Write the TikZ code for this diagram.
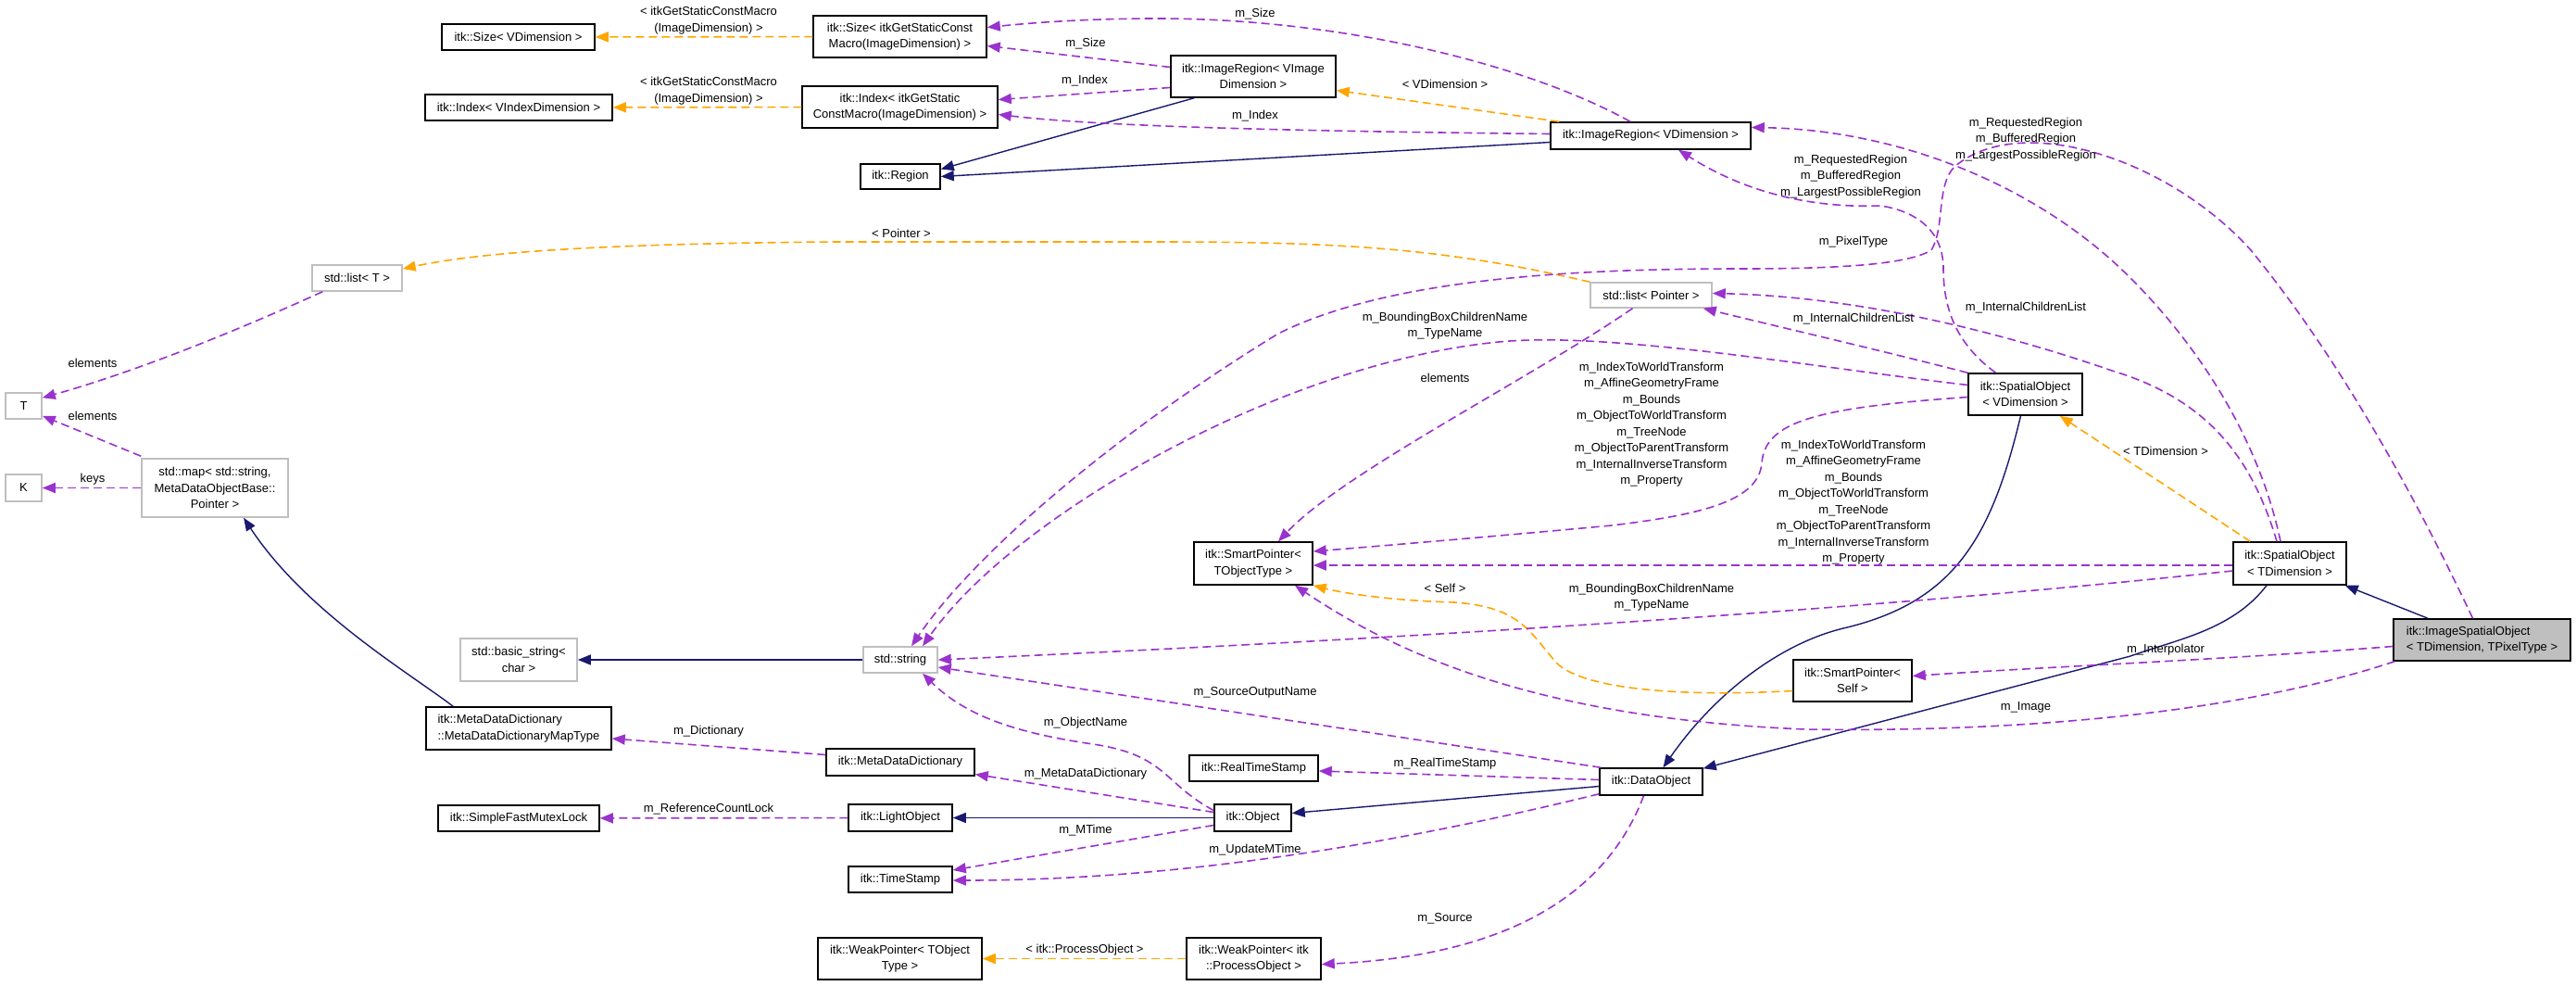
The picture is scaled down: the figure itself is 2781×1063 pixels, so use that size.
\documentclass[tikz,border=0pt]{standalone}
\usepackage{fontspec}
\setmainfont{Liberation Sans}
\usetikzlibrary{arrows.meta,calc}
\definecolor{navy}{HTML}{191970}
\definecolor{orchid}{HTML}{9A32CD}
\definecolor{tmpl}{HTML}{FFA500}
\definecolor{lgray}{HTML}{BFBFBF}
\begin{document}
\begin{tikzpicture}[x=1pt,y=-1pt, font=\fontsize{13}{17.5}\selectfont,
 cls/.style={draw=black, line width=1.5pt, fill=white, inner sep=0pt, align=center},
 gcls/.style={cls, draw=lgray},
 lbl/.style={inner sep=0pt, align=center},
 atip/.style={-{Triangle[length=14pt,width=11pt]}},
 inh/.style={draw=navy, line width=1.4pt, atip},
 usedge/.style={draw=orchid, line width=1.6pt, dash pattern=on 9pt off 5pt, atip},
 tpl/.style={draw=tmpl, line width=1.6pt, dash pattern=on 9pt off 5pt, atip}]
\useasboundingbox (0,0) rectangle (2781,1063);

% ---------------- nodes ----------------
\node[cls, minimum width=165, minimum height=28] (sizeV) at (559.5,40) {itk::Size< VDimension >};
\node[cls, minimum width=202, minimum height=28] (indexV) at (560,116) {itk::Index< VIndexDimension >};
\node[cls, minimum width=187, minimum height=45] (sizeT) at (971.5,39.5) {itk::Size< itkGetStaticConst\\Macro(ImageDimension) >};
\node[cls, minimum width=211, minimum height=45] (indexT) at (971.5,115.5) {itk::Index< itkGetStatic\\ConstMacro(ImageDimension) >};
\node[cls, minimum width=86, minimum height=27] (region) at (972,190.5) {itk::Region};
\node[cls, minimum width=178, minimum height=45] (irVI) at (1353,82.5) {itk::ImageRegion< VImage\\Dimension >};
\node[cls, minimum width=216, minimum height=29] (irVD) at (1782,146.5) {itk::ImageRegion< VDimension >};
\node[gcls, minimum width=97, minimum height=28] (listT) at (385.5,300) {std::list< T >};
\node[gcls, minimum width=131, minimum height=27] (listP) at (1782.5,318.5) {std::list< Pointer >};
\node[gcls, minimum width=39, minimum height=28] (T) at (25.5,438) {T};
\node[gcls, minimum width=39, minimum height=29] (K) at (25.5,526.5) {K};
\node[gcls, minimum width=158, minimum height=63] (map) at (232,526.5) {std::map< std::string,\\MetaDataObjectBase::\\Pointer >};
\node[gcls, minimum width=126, minimum height=46] (bstr) at (560,712) {std::basic\_string<\\char >};
\node[gcls, minimum width=80, minimum height=28] (str) at (972,712) {std::string};
\node[cls, minimum width=200, minimum height=46, align=left] (mdmt) at (560,786) {itk::MetaDataDictionary\\::MetaDataDictionaryMapType};
\node[cls, minimum width=160, minimum height=29] (mdd) at (972,822.5) {itk::MetaDataDictionary};
\node[cls, minimum width=174, minimum height=28] (sfml) at (560,883) {itk::SimpleFastMutexLock};
\node[cls, minimum width=112, minimum height=29] (light) at (972,882.5) {itk::LightObject};
\node[cls, minimum width=112, minimum height=28] (ts) at (972,949) {itk::TimeStamp};
\node[cls, minimum width=177, minimum height=45] (wpT) at (971.5,1034.5) {itk::WeakPointer< TObject\\Type >};
\node[cls, minimum width=145, minimum height=45] (wpP) at (1353.5,1034.5) {itk::WeakPointer< itk\\::ProcessObject >};
\node[cls, minimum width=83, minimum height=29] (obj) at (1352.5,882.5) {itk::Object};
\node[cls, minimum width=139, minimum height=28] (rts) at (1353.5,829) {itk::RealTimeStamp};
\node[cls, minimum width=128, minimum height=46] (spT) at (1353,608) {itk::SmartPointer<\\TObjectType >};
\node[cls, minimum width=111, minimum height=29] (dobj) at (1782.5,843.5) {itk::DataObject};
\node[cls, minimum width=128, minimum height=45] (spS) at (2000,734.5) {itk::SmartPointer<\\Self >};
\node[cls, minimum width=123, minimum height=45] (soV) at (2186.5,425.5) {itk::SpatialObject\\< VDimension >};
\node[cls, minimum width=122, minimum height=46] (soT) at (2472,608) {itk::SpatialObject\\< TDimension >};
\node[cls, fill=lgray, minimum width=191, minimum height=45, align=left] (iso) at (2679.5,690.5) {itk::ImageSpatialObject\\< TDimension, TPixelType >};

% ---------------- inheritance ----------------
\draw[inh] ($(irVI.south west)+(26,0)$) -- ($(region.east)+(0,-8)$);
\draw[inh] ($(irVD.west)+(0,7)$) -- (region.east);
\draw[inh] ($(mdmt.north west)+(30,0)$) .. controls (440,725) and (330,660) .. ($(map.south)+(31,0)$);
\draw[inh] (str) -- (bstr);
\draw[inh] (obj) -- (light);
\draw[inh] ($(dobj.west)+(0,5)$) -- ($(obj.east)+(0,-5)$);
\draw[inh] ($(soV.south)+(-5,0)$) .. controls (2150,580) and (2110,650) .. (1990,678) .. controls (1920,695) and (1850,750) .. ($(dobj.north)+(13,0)$);
\draw[inh] ($(soT.south)+(-25,0)$) .. controls (2410,680) and (2350,690) .. (2300,708) -- ($(dobj.north east)+(0,1)$);
\draw[inh] (iso) -- (soT);

% ---------------- template instances ----------------
\draw[tpl] (sizeT) -- (sizeV);
\draw[tpl] (indexT) -- (indexV);
\draw[tpl] ($(irVD.north west)+(10,0)$) -- ($(irVI.east)+(0,15)$);
\draw[tpl] (listP.north west) .. controls (1560,268) and (1450,261) .. (1250,261) -- (900,261) .. controls (650,263) and (520,272) .. ($(listT.east)+(0,-10)$);
\draw[tpl] ($(soT.north west)+(19,0)$) -- ($(soV.south east)+(-25,0)$);
\draw[tpl] ($(spS.west)+(0,11)$) .. controls (1820,752) and (1710,745) .. (1680,715) .. controls (1650,680) and (1640,655) .. (1570,650) .. controls (1500,648) and (1450,640) .. (spT.south east);
\draw[tpl] (wpP) -- (wpT);

% ---------------- usage ----------------
\draw[usedge] ($(irVI.west)+(0,-10)$) -- ($(sizeT.east)+(0,10)$);
\draw[usedge] ($(irVI.west)+(0,12)$) -- ($(indexT.east)+(0,-8)$);
\draw[usedge] ($(irVD.north)+(-22,0)$) .. controls (1650,70) and (1450,20) .. (1250,20) .. controls (1170,20) and (1110,25) .. ($(sizeT.east)+(0,-10)$);
\draw[usedge] ($(irVD.west)+(0,-2)$) .. controls (1450,142) and (1200,138) .. ($(indexT.east)+(0,8)$);
\draw[usedge] ($(listT.south west)+(12,0)$) .. controls (260,355) and (150,400) .. ($(T.north east)+(0,6)$);
\draw[usedge] ($(map.north west)+(0,-2)$) -- ($(T.south east)+(0,-4)$);
\draw[usedge] (map) -- (K);
\draw[usedge] ($(listP.south)+(-20,0)$) .. controls (1650,410) and (1450,510) .. ($(spT.north)+(27,0)$);
\draw[usedge] ($(soV.north)+(-32,0)$) .. controls (2110,370) and (2098,330) .. (2098,290) .. controls (2098,250) and (2070,228) .. (2030,222) .. controls (1950,225) and (1880,205) .. ($(irVD.south)+(30,0)$);
\draw[usedge] ($(iso.north)+(-10,0)$) .. controls (2600,520) and (2520,380) .. (2430,270) .. controls (2340,170) and (2180,120) .. (2110,180) .. controls (2090,200) and (2100,245) .. (2085,270) .. controls (2060,285) and (1990,290) .. (1880,290) .. controls (1700,290) and (1500,300) .. (1380,360) .. controls (1200,470) and (1050,600) .. ($(str.north)+(12,0)$);
\draw[usedge] ($(soT.north)+(-10,0)$) .. controls (2440,480) and (2380,380) .. (2300,300) .. controls (2200,200) and (2050,140) .. ($(irVD.east)+(0,-9)$);
\draw[usedge] ($(soT.north)+(-14,0)$) .. controls (2430,490) and (2380,430) .. (2280,400) .. controls (2150,355) and (2000,320) .. ($(listP.east)+(0,-2)$);
\draw[usedge] (soV.north west) .. controls (2030,378) and (1930,355) .. ($(listP.south east)+(-10,0)$);
\draw[usedge] ($(soV.west)+(0,-10)$) .. controls (1950,395) and (1750,360) .. (1630,368) .. controls (1400,385) and (1100,550) .. ($(str.north)+(24,0)$);
\draw[usedge] ($(soV.west)+(0,3)$) .. controls (1960,440) and (1905,455) .. (1902,500) .. controls (1898,540) and (1840,555) .. (1740,567) .. controls (1600,580) and (1480,590) .. ($(spT.east)+(0,-13)$);
\draw[usedge] ($(soT.west)+(0,2)$) -- ($(spT.east)+(0,2)$);
\draw[usedge] ($(soT.west)+(0,8)$) .. controls (2000,660) and (1500,690) .. (str.east);
\draw[usedge] ($(iso.west)+(0,7)$) .. controls (2400,712) and (2200,720) .. ($(spS.east)+(0,-5)$);
\draw[usedge] ($(iso.south west)+(2,0)$) .. controls (2400,775) and (2150,790) .. (1950,787) .. controls (1650,775) and (1500,700) .. ($(spT.south)+(45,0)$);
\draw[usedge] ($(dobj.north west)+(2,0)$) -- ($(str.east)+(0,8)$);
\draw[usedge] ($(obj.west)+(0,-8)$) .. controls (1255,845) and (1260,815) .. (1180,803) .. controls (1090,790) and (1040,770) .. ($(str.south)+(24,0)$);
\draw[usedge] ($(obj.west)+(0,-6)$) -- ($(mdd.east)+(0,13)$);
\draw[usedge] ($(obj.west)+(0,8)$) -- ($(ts.east)+(0,-10)$);
\draw[usedge] ($(dobj.south west)+(0,-2)$) .. controls (1550,900) and (1300,950) .. ($(ts.east)+(0,1)$);
\draw[usedge] ($(dobj.west)+(0,-2)$) -- ($(rts.east)+(0,3)$);
\draw[usedge] ($(dobj.south)+(-8,0)$) .. controls (1740,950) and (1650,1030) .. ($(wpP.east)+(0,6)$);
\draw[usedge] ($(mdd.west)+(0,-8)$) -- ($(mdmt.east)+(0,11)$);
\draw[usedge] (light) -- (sfml);

% ---------------- labels ----------------
\node[lbl] (l1) at (765,22) {< itkGetStaticConstMacro\\(ImageDimension) >};
\node[lbl] (l2) at (765,98) {< itkGetStaticConstMacro\\(ImageDimension) >};
\node[lbl] (l3) at (1172,47) {m\_Size};
\node[lbl] (l4) at (1171,87) {m\_Index};
\node[lbl] (l5) at (1355,15) {m\_Size};
\node[lbl] (l6) at (1355,125) {m\_Index};
\node[lbl] (l7) at (1560,91) {< VDimension >};
\node[lbl] (l8) at (973,252) {< Pointer >};
\node[lbl] (l9) at (100,392) {elements};
\node[lbl] (l10) at (100,449) {elements};
\node[lbl] (l11) at (100,517) {keys};
\node[lbl] (l12) at (1560,408) {elements};
\node[lbl] (l13) at (1998,190.5) {m\_RequestedRegion\\m\_BufferedRegion\\m\_LargestPossibleRegion};
\node[lbl] (l14) at (2187,150.5) {m\_RequestedRegion\\m\_BufferedRegion\\m\_LargestPossibleRegion};
\node[lbl] (l15) at (2001,261) {m\_PixelType};
\node[lbl] (l16) at (2187,332) {m\_InternalChildrenList};
\node[lbl] (l17) at (2001,344) {m\_InternalChildrenList};
\node[lbl] (l18) at (1560,351.5) {m\_BoundingBoxChildrenName\\m\_TypeName};
\node[lbl] (l19) at (1783,458) {m\_IndexToWorldTransform\\m\_AffineGeometryFrame\\m\_Bounds\\m\_ObjectToWorldTransform\\m\_TreeNode\\m\_ObjectToParentTransform\\m\_InternalInverseTransform\\m\_Property};
\node[lbl] (l20) at (2001,542) {m\_IndexToWorldTransform\\m\_AffineGeometryFrame\\m\_Bounds\\m\_ObjectToWorldTransform\\m\_TreeNode\\m\_ObjectToParentTransform\\m\_InternalInverseTransform\\m\_Property};
\node[lbl] (l21) at (1783,644.5) {m\_BoundingBoxChildrenName\\m\_TypeName};
\node[lbl] (l22) at (2338,487) {< TDimension >};
\node[lbl] (l23) at (1560,635) {< Self >};
\node[lbl] (l24) at (2338,701) {m\_Interpolator};
\node[lbl] (l25) at (2187,763) {m\_Image};
\node[lbl] (l26) at (1355,747) {m\_SourceOutputName};
\node[lbl] (l27) at (1172,780) {m\_ObjectName};
\node[lbl] (l28) at (1172,835) {m\_MetaDataDictionary};
\node[lbl] (l29) at (1560,824) {m\_RealTimeStamp};
\node[lbl] (l30) at (765,789) {m\_Dictionary};
\node[lbl] (l31) at (765,873) {m\_ReferenceCountLock};
\node[lbl] (l32) at (1172,896) {m\_MTime};
\node[lbl] (l33) at (1355,917) {m\_UpdateMTime};
\node[lbl] (l34) at (1560,991) {m\_Source};
\node[lbl] (l35) at (1171,1025) {< itk::ProcessObject >};
\end{tikzpicture}
\end{document}
